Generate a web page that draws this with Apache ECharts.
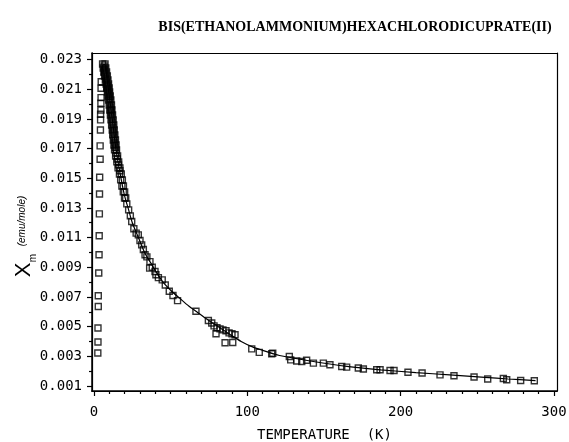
<!DOCTYPE html>
<html>
<head>
<meta charset="utf-8">
<script src="https://cdn.jsdelivr.net/npm/echarts@6/dist/echarts.min.js"></script>
<style>
  html, body { margin: 0; padding: 0; background: #fff; }
  #main { width: 569px; height: 442px; }
</style>
</head>
<body>
<div id="main"></div>
<script>
// low temperature column of squares (rising side, below the maximum)
var lowTemp = [4.7, 4.6, 4.6, 4.5, 4.5, 4.3, 4.3, 4.2, 4.0, 4.0, 3.7, 3.6, 3.5, 3.4, 3.3, 3.1, 2.8, 2.8, 2.6, 2.6, 2.5];
var lowChi = [0.02150, 0.02106, 0.02043, 0.02005, 0.01960, 0.01931, 0.01893, 0.01825, 0.01718, 0.01628, 0.01507,
              0.01394, 0.01260, 0.01112, 0.00984, 0.00861, 0.00708, 0.00636, 0.00491, 0.00396, 0.00322];

// dense band just after the maximum
var bandTemp = [5.6, 7.2, 6.0, 7.7, 6.4, 8.2, 6.9, 8.7, 7.4, 9.1, 7.9, 9.5, 8.3, 9.9, 8.7, 10.2, 9.1, 10.6, 9.5, 11.0,
                9.9, 11.4, 10.3, 11.7, 10.7, 12.1, 11.1, 12.5, 11.5, 12.9, 11.9, 13.2, 12.2, 13.6, 12.6, 14.0, 13.0, 14.4,
                13.4, 14.7, 14.1, 15.4, 14.9, 16.1, 15.7, 16.9, 16.6, 17.8, 17.4, 18.5, 18.2, 19.2, 19.1, 20.0, 19.9, 20.7,
                21.4, 22.6, 23.7, 11.1];
var bandChi = [0.02270, 0.02270, 0.02243, 0.02243, 0.02216, 0.02216, 0.02189, 0.02189, 0.02162, 0.02162,
               0.02135, 0.02135, 0.02108, 0.02108, 0.02081, 0.02081, 0.02054, 0.02054, 0.02027, 0.02027,
               0.01994, 0.01994, 0.01960, 0.01960, 0.01926, 0.01926, 0.01893, 0.01893, 0.01859, 0.01859,
               0.01825, 0.01825, 0.01792, 0.01792, 0.01758, 0.01758, 0.01724, 0.01724, 0.01691, 0.01691,
               0.01650, 0.01650, 0.01610, 0.01610, 0.01570, 0.01570, 0.01529, 0.01529, 0.01489, 0.01489,
               0.01448, 0.01448, 0.01408, 0.01408, 0.01367, 0.01367, 0.01327, 0.01287, 0.01246, 0.01960];
// band centre points in between
var band2Temp = [6.6, 7.0, 7.5, 8.0, 8.4, 8.9, 9.3, 9.7, 10.0, 10.4, 10.8, 11.2, 11.6, 12.0, 12.4, 12.7, 13.1, 13.5,
                 13.9, 14.4, 15.2, 16.0, 16.9];
var band2Chi = [0.02256, 0.02229, 0.02202, 0.02175, 0.02148, 0.02122, 0.02095, 0.02068, 0.02041, 0.02010, 0.01977,
                0.01943, 0.01909, 0.01876, 0.01842, 0.01808, 0.01775, 0.01741, 0.01707, 0.01670, 0.01630, 0.01590,
                0.01550];

// 25 - 120 K
var midTemp = [24.6, 26.0, 27.5, 28.9, 30.0, 31.1, 32.2, 33.3, 34.5, 36.3, 36.5, 38.0, 39.8, 40.4, 42.0, 44.5, 46.5,
               49.1, 51.5, 54.5, 66.5, 74.6, 76.8, 78.3, 80.2, 82.2, 84.1, 86.1, 88.1, 90.0, 92.0, 79.6, 85.5, 90.5,
               102.9, 107.8, 115.9];
var midChi = [0.01208, 0.01160, 0.01130, 0.01118, 0.01080, 0.01051, 0.01020, 0.00984, 0.00970, 0.00894, 0.00938,
              0.00900, 0.00871, 0.00849, 0.00830, 0.00815, 0.00780, 0.00738, 0.00710, 0.00675, 0.00603, 0.00541,
              0.00524, 0.00505, 0.00492, 0.00485, 0.00478, 0.00472, 0.00458, 0.00452, 0.00445, 0.00452, 0.00391,
              0.00393, 0.00350, 0.00326, 0.00317];

// 120 - 290 K
var highTemp = [116.6, 127.4, 128.3, 132.2, 135.5, 138.7, 143.1, 149.6, 153.9, 161.6, 164.8, 172.4, 175.7, 184.4,
                186.6, 193.1, 195.7, 204.8, 214.0, 225.7, 234.8, 247.9, 256.8, 267.0, 269.2, 278.3, 287.2];
var highChi = [0.00320, 0.00299, 0.00276, 0.00268, 0.00265, 0.00273, 0.00254, 0.00254, 0.00243, 0.00231, 0.00227,
               0.00221, 0.00214, 0.00209, 0.00209, 0.00204, 0.00204, 0.00192, 0.00187, 0.00175, 0.00169, 0.00160,
               0.00147, 0.00150, 0.00142, 0.00137, 0.00135];

// fitted curve
var fitTemp = [4.8, 5.8, 6.8, 7.8, 9, 10.5, 12, 14, 16, 18, 20, 22.5, 25, 29, 33, 37, 41, 45, 50, 56, 62, 67, 72,
               78, 89, 96, 103, 110, 121, 143, 165, 187, 210, 232, 255, 270, 288];
var fitChi = [0.0219, 0.0226, 0.02265, 0.0222, 0.0213, 0.0201, 0.0189, 0.0172, 0.0159, 0.0148, 0.0138, 0.0129,
              0.0120, 0.0110, 0.0100, 0.0093, 0.0086, 0.0080, 0.00745, 0.0069, 0.00637, 0.0060, 0.00562, 0.0052,
              0.00445, 0.0040, 0.00365, 0.0034, 0.00305, 0.00265, 0.00232, 0.00209, 0.00190, 0.00175, 0.00158,
              0.00147, 0.00136];

// ticks
var xLabels = [0, 100, 200, 300];
var xMinor = [10, 20, 30, 40, 50, 60, 70, 80, 90, 110, 120, 130, 140, 150, 160, 170, 180, 190,
              210, 220, 230, 240, 250, 260, 270, 280, 290];
var yLabels = [0.001, 0.003, 0.005, 0.007, 0.009, 0.011, 0.013, 0.015, 0.017, 0.019, 0.021, 0.023];
var yMinor = [0.002, 0.004, 0.006, 0.008, 0.010, 0.012, 0.014, 0.016, 0.018, 0.020, 0.022];

function pairs(xs, ys) {
    var out = [];
    for (var i = 0; i < xs.length; i++) out.push([xs[i], ys[i]]);
    return out;
}

var squares = pairs(lowTemp, lowChi)
    .concat(pairs(bandTemp, bandChi))
    .concat(pairs(band2Temp, band2Chi))
    .concat(pairs(midTemp, midChi))
    .concat(pairs(highTemp, highChi));

var TICKFONT = '"DejaVu Sans Mono", monospace';
var X_MIN = -1.3, X_MAX = 302, Y_MIN = 0.00066, Y_MAX = 0.02344;

// plain axis used only for a frame line or a set of ticks
function bareX(pos, ticks, len) {
    return {
        type: 'value', min: X_MIN, max: X_MAX, position: pos,
        axisLine: { show: true, onZero: false, lineStyle: { color: '#000', width: 1.2 } },
        axisTick: ticks ? { show: true, inside: false, length: len, customValues: ticks, lineStyle: { color: '#000', width: 1.2 } } : { show: false },
        axisLabel: { show: false }, splitLine: { show: false }
    };
}
function bareY(pos, ticks, len) {
    return {
        type: 'value', min: Y_MIN, max: Y_MAX, position: pos,
        axisLine: { show: true, onZero: false, lineStyle: { color: '#000', width: 1.2 } },
        axisTick: ticks ? { show: true, inside: false, length: len, customValues: ticks, lineStyle: { color: '#000', width: 1.2 } } : { show: false },
        axisLabel: { show: false }, splitLine: { show: false }
    };
}

var chart = echarts.init(document.getElementById('main'));
var option = {
    animation: false,
    backgroundColor: '#fff',
    grid: {
        left: 92, right: 12, top: 53, bottom: 51, show: false,
        containLabel: false, outerBoundsMode: 'none'
    },
    xAxis: [
        {
            type: 'value', min: X_MIN, max: X_MAX, position: 'bottom',
            name: 'TEMPERATURE  (K)', nameLocation: 'middle', nameGap: 37,
            nameTextStyle: { fontFamily: TICKFONT, fontSize: 14, color: '#000' },
            axisLine: { show: true, onZero: false, lineStyle: { color: '#000', width: 1.5 } },
            axisTick: { show: true, inside: false, length: 5, customValues: xLabels, lineStyle: { color: '#000', width: 1.2 } },
            axisLabel: { show: true, customValues: xLabels, margin: 14, fontFamily: TICKFONT, fontSize: 14, color: '#000' },
            splitLine: { show: false }
        },
        bareX('bottom', xMinor, 3),
        bareX('top', null, 0)
    ],
    yAxis: [
        {
            type: 'value', min: Y_MIN, max: Y_MAX, position: 'left',
            axisLine: { show: true, onZero: false, lineStyle: { color: '#000', width: 1.5 } },
            axisTick: { show: true, inside: false, length: 5, customValues: yLabels, lineStyle: { color: '#000', width: 1.2 } },
            axisLabel: {
                show: true, customValues: yLabels, margin: 10, fontFamily: TICKFONT, fontSize: 14, color: '#000',
                formatter: function (v) { return v.toFixed(3); }
            },
            splitLine: { show: false }
        },
        bareY('left', yMinor, 3),
        bareY('right', null, 0)
    ],
    graphic: [
        {
            type: 'text', x: 355, y: 27,
            style: {
                text: 'BIS(ETHANOLAMMONIUM)HEXACHLORODICUPRATE(II)',
                font: 'bold 14px "Liberation Serif", serif', fill: '#000',
                align: 'center', verticalAlign: 'middle', textAlign: 'center', textVerticalAlign: 'middle'
            }
        },
        {
            type: 'text', x: 24, y: 270, rotation: Math.PI / 2,
            style: {
                text: 'X', font: '22px "Liberation Sans", sans-serif', fill: '#000',
                align: 'center', verticalAlign: 'middle', textAlign: 'center', textVerticalAlign: 'middle'
            }
        },
        {
            type: 'text', x: 33, y: 258, rotation: Math.PI / 2,
            style: {
                text: 'm', font: '10px "Liberation Sans", sans-serif', fill: '#000',
                align: 'center', verticalAlign: 'middle', textAlign: 'center', textVerticalAlign: 'middle'
            }
        },
        {
            type: 'text', x: 22, y: 221, rotation: Math.PI / 2,
            style: {
                text: '(emu/mole)', font: 'italic 10px "Liberation Sans", sans-serif', fill: '#000',
                align: 'center', verticalAlign: 'middle', textAlign: 'center', textVerticalAlign: 'middle'
            }
        }
    ],
    series: [
        {
            name: 'fit', type: 'line', xAxisIndex: 0, yAxisIndex: 0,
            data: pairs(fitTemp, fitChi),
            showSymbol: false, smooth: 0.3,
            lineStyle: { color: '#000', width: 1.2 },
            z: 2
        },
        {
            name: 'measured', type: 'scatter', xAxisIndex: 0, yAxisIndex: 0,
            data: squares,
            symbol: 'rect', symbolSize: 6,
            itemStyle: { color: 'rgba(255,255,255,0)', borderColor: '#000', borderWidth: 1.4 },
            z: 3
        }
    ]
};
chart.setOption(option);
</script>
</body>
</html>
